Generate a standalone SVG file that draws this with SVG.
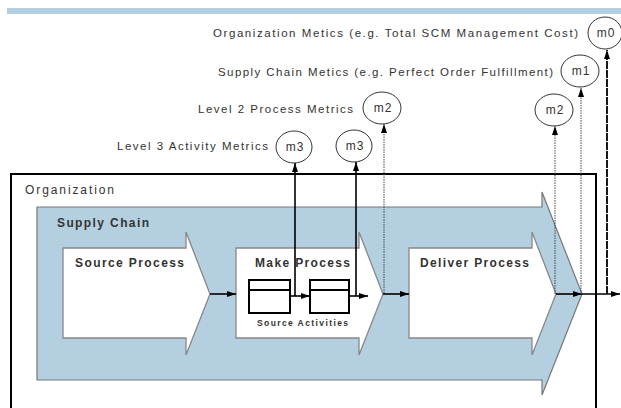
<svg xmlns="http://www.w3.org/2000/svg" width="621" height="408" viewBox="0 0 621 408">
<style>
text{font-family:"Liberation Sans",Arial,sans-serif;fill:#333}
.lbl{font-size:11.5px}
.b{font-weight:bold;font-size:12px}
.proc{fill:#fff;stroke:#888;stroke-width:1.3}
.ell{fill:#fff;stroke:#333;stroke-width:1}
.act{fill:#fff;stroke:#000;stroke-width:2}
.solid{stroke:#000;stroke-width:1.6;fill:none}
.dot{stroke:#444;stroke-width:1;stroke-dasharray:1.5 1;fill:none}
.dash{stroke:#000;stroke-width:1.8;stroke-dasharray:8 1;fill:none}
.mt{font-size:12px;text-anchor:middle;letter-spacing:1px}
</style>
<defs>
<marker id="ah" markerWidth="9" markerHeight="6" refX="9" refY="3" orient="auto" markerUnits="userSpaceOnUse">
<path d="M0,0 L9,3 L0,6 z" fill="#000"/>
</marker>
</defs>
<rect x="0" y="0" width="621" height="408" fill="#fff"/>
<rect x="7" y="8" width="614" height="6" fill="#b3cfe0"/>

<g id="organization">
<rect x="11" y="174" width="585" height="250" fill="none" stroke="#000" stroke-width="2"/>
<text class="lbl" x="25" y="194" textLength="89" lengthAdjust="spacing" style="font-size:12px">Organization</text>
</g>

<g id="supply-chain">
<path d="M37,207 H542 V192 L582,294 L542,395 V380 H37 Z" fill="#b3cfe0" stroke="#777" stroke-width="1.2"/>
<text class="b" x="57" y="227" textLength="92" lengthAdjust="spacing">Supply Chain</text>
</g>

<g id="source-process">
<path class="proc" d="M63,248 H186 V232 L210,294 L186,355 V338 H63 Z"/>
<text class="b" x="75" y="267" textLength="109" lengthAdjust="spacing">Source Process</text>
</g>

<g id="make-process">
<path class="proc" d="M236,248 H359 V232 L383,294 L359,355 V338 H236 Z"/>
<text class="b" x="255" y="267" textLength="95" lengthAdjust="spacing">Make Process</text>
</g>

<g id="deliver-process">
<path class="proc" d="M409,248 H532 V232 L556,294 L532,355 V338 H409 Z"/>
<text class="b" x="420" y="267" textLength="109" lengthAdjust="spacing">Deliver Process</text>
</g>

<g id="activity-1">
<rect class="act" x="249" y="280" width="41" height="33"/>
<line x1="249" y1="290" x2="290" y2="290" stroke="#000" stroke-width="2"/>
</g>
<g id="activity-2">
<rect class="act" x="310" y="280" width="39" height="33"/>
<line x1="310" y1="290" x2="349" y2="290" stroke="#000" stroke-width="2"/>
</g>
<g id="source-activities-label">
<text x="257" y="326" textLength="91" lengthAdjust="spacing" style="font-size:8.5px;font-weight:bold">Source Activities</text>
</g>

<g id="connectors">
<line class="solid" x1="210" y1="294" x2="236" y2="294" marker-end="url(#ah)"/>
<line class="solid" x1="290" y1="296" x2="310" y2="296" marker-end="url(#ah)"/>
<line class="solid" x1="349" y1="296" x2="368" y2="296" marker-end="url(#ah)"/>
<line class="solid" x1="383" y1="294" x2="409" y2="294" marker-end="url(#ah)"/>
<line class="solid" x1="556" y1="294" x2="582" y2="294" marker-end="url(#ah)"/>
<line class="solid" x1="582" y1="294" x2="620" y2="294" marker-end="url(#ah)"/>
<line class="solid" x1="295" y1="296" x2="295" y2="163" marker-end="url(#ah)"/>
<line class="solid" x1="356" y1="296" x2="356" y2="162" marker-end="url(#ah)"/>
<line class="dot" x1="384" y1="293" x2="384" y2="124" marker-end="url(#ah)"/>
<line class="dot" x1="555" y1="294" x2="555" y2="126" marker-end="url(#ah)"/>
<line class="dot" x1="581" y1="294" x2="581" y2="88" marker-end="url(#ah)"/>
<line class="dash" x1="607" y1="294" x2="607" y2="50" marker-end="url(#ah)"/>
</g>

<g id="m0">
<ellipse class="ell" cx="605" cy="33" rx="17" ry="16"/>
<text class="mt" x="606" y="37">m0</text>
</g>
<g id="m1">
<ellipse class="ell" cx="580" cy="71" rx="19" ry="16"/>
<text class="mt" x="581" y="75">m1</text>
</g>
<g id="m2-level2">
<ellipse class="ell" cx="382" cy="108" rx="19" ry="16"/>
<text class="mt" x="383" y="112">m2</text>
</g>
<g id="m2-deliver">
<ellipse class="ell" cx="554" cy="110" rx="19" ry="16"/>
<text class="mt" x="555" y="114">m2</text>
</g>
<g id="m3-a">
<ellipse class="ell" cx="294" cy="147" rx="18" ry="16"/>
<text class="mt" x="295" y="151">m3</text>
</g>
<g id="m3-b">
<ellipse class="ell" cx="354" cy="146" rx="18" ry="16"/>
<text class="mt" x="355" y="150">m3</text>
</g>

<g id="metric-labels">
<text class="lbl" x="213" y="37" textLength="365" lengthAdjust="spacing">Organization Metics (e.g. Total SCM Management Cost)</text>
<text class="lbl" x="218" y="76" textLength="335" lengthAdjust="spacing">Supply Chain Metics (e.g. Perfect Order Fulfillment)</text>
<text class="lbl" x="198" y="113" textLength="155" lengthAdjust="spacing">Level 2 Process Metrics</text>
<text class="lbl" x="117" y="150" textLength="151" lengthAdjust="spacing">Level 3 Activity Metrics</text>
</g>
</svg>
